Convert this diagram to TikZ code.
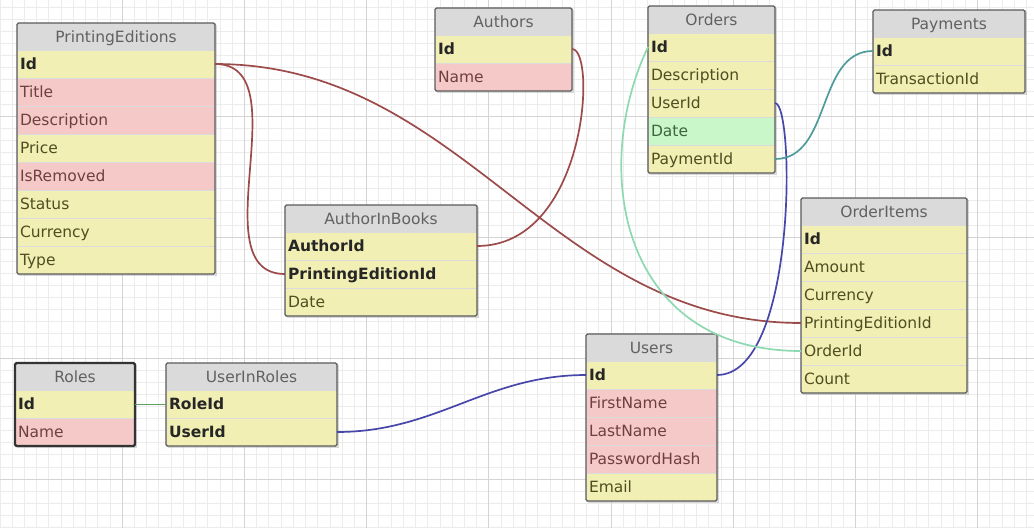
\documentclass[tikz,border=0pt]{standalone}
\usepackage{fontspec}
\setmainfont{DejaVu Sans}
\usetikzlibrary{shadows}

\definecolor{rowyellow}{HTML}{F1EFB3}
\definecolor{rowpink}{HTML}{F6C9C9}
\definecolor{rowgreen}{HTML}{C9F7C9}
\definecolor{headgray}{HTML}{DADADA}
\definecolor{framegray}{HTML}{5A5A5A}
\definecolor{textolive}{HTML}{4E4E22}
\definecolor{textred}{HTML}{6E4040}
\definecolor{textgreen}{HTML}{3E643E}
\definecolor{linered}{HTML}{9C4A4A}
\definecolor{lineblue}{HTML}{4747AA}
\definecolor{lineteal}{HTML}{4E9C9A}
\definecolor{linemint}{HTML}{8ED9B2}
\definecolor{linegreen}{HTML}{5E9E5E}
\definecolor{minorgray}{HTML}{ECECEC}
\definecolor{majorgray}{HTML}{D4D4D4}

\tikzset{
  tablerow/.style={anchor=north west, inner xsep=3pt, inner ysep=0pt, outer sep=0pt,
    minimum height=28pt, text height=12.5pt, text depth=1.5pt, align=left,
    draw=black!14, font=\fontsize{15.5}{17}\selectfont, text=textolive,
    drop shadow={opacity=0.3, shadow xshift=1.5pt, shadow yshift=-1.5pt}},
  headrow/.style={tablerow, fill=headgray, minimum height=27pt, align=center, text=black!62},
  keyrow/.style={tablerow, fill=rowyellow, font=\fontsize{15.5}{17}\selectfont\bfseries, text=black!85},
  yellowrow/.style={tablerow, fill=rowyellow},
  pinkrow/.style={tablerow, fill=rowpink, text=textred},
  greenrow/.style={tablerow, fill=rowgreen, text=textgreen},
  frame/.style={draw=framegray, line width=1.2pt, rounded corners=1.5pt},
  link/.style={line width=1.7pt},
}

\begin{document}
\begin{tikzpicture}[x=1pt, y=-1pt]
  \fill[white] (0,0) rectangle (1034,528);
  \useasboundingbox (0,0) rectangle (1034,528);

  % Grid paper
  \foreach \k in {0,...,84} \draw[minorgray, line width=0.8pt] (\k*12.22,0) -- (\k*12.22,528);
  \foreach \k in {0,...,43} \draw[minorgray, line width=0.8pt] (0,7.1+\k*12.1) -- (1034,7.1+\k*12.1);
  \foreach \k in {1,...,8} \draw[majorgray, line width=1pt] (\k*122.2,0) -- (\k*122.2,528);
  \foreach \k in {1,...,4} \draw[majorgray, line width=1pt] (0,\k*121-5) -- (1034,\k*121-5);

  % PrintingEditions
  \node[headrow, text width=192pt] (pe-head) at (17,23) {PrintingEditions};
  \node[keyrow, text width=192pt] (pe-id) at (17,50) {Id};
  \node[pinkrow, text width=192pt] (pe-title) at (17,78) {Title};
  \node[pinkrow, text width=192pt] (pe-desc) at (17,106) {Description};
  \node[yellowrow, text width=192pt] (pe-price) at (17,134) {Price};
  \node[pinkrow, text width=192pt] (pe-removed) at (17,162) {IsRemoved};
  \node[yellowrow, text width=192pt] (pe-status) at (17,190) {Status};
  \node[yellowrow, text width=192pt] (pe-currency) at (17,218) {Currency};
  \node[yellowrow, text width=192pt] (pe-type) at (17,246) {Type};
  \draw[frame] (pe-head.north west) rectangle (pe-type.south east);

  % Authors
  \node[headrow, text width=131pt] (auth-head) at (435,8) {Authors};
  \node[keyrow, text width=131pt] (auth-id) at (435,35) {Id};
  \node[pinkrow, text width=131pt] (auth-name) at (435,63) {Name};
  \draw[frame] (auth-head.north west) rectangle (auth-name.south east);

  % AuthorInBooks
  \node[headrow, text width=186pt] (aib-head) at (285,205) {AuthorInBooks};
  \node[keyrow, text width=186pt] (aib-authorid) at (285,232) {AuthorId};
  \node[keyrow, text width=186pt] (aib-peid) at (285,260) {PrintingEditionId};
  \node[yellowrow, text width=186pt] (aib-date) at (285,288) {Date};
  \draw[frame] (aib-head.north west) rectangle (aib-date.south east);

  % Orders
  \node[headrow, text width=121pt] (ord-head) at (648,6) {Orders};
  \node[keyrow, text width=121pt] (ord-id) at (648,33) {Id};
  \node[yellowrow, text width=121pt] (ord-desc) at (648,61) {Description};
  \node[yellowrow, text width=121pt] (ord-userid) at (648,89) {UserId};
  \node[greenrow, text width=121pt] (ord-date) at (648,117) {Date};
  \node[yellowrow, text width=121pt] (ord-paymentid) at (648,145) {PaymentId};
  \draw[frame] (ord-head.north west) rectangle (ord-paymentid.south east);

  % Payments
  \node[headrow, text width=146pt] (pay-head) at (873,10) {Payments};
  \node[keyrow, text width=146pt] (pay-id) at (873,37) {Id};
  \node[yellowrow, text width=146pt] (pay-transaction) at (873,65) {TransactionId};
  \draw[frame] (pay-head.north west) rectangle (pay-transaction.south east);

  % OrderItems
  \node[headrow, text width=160pt] (oi-head) at (801,198) {OrderItems};
  \node[keyrow, text width=160pt] (oi-id) at (801,225) {Id};
  \node[yellowrow, text width=160pt] (oi-amount) at (801,253) {Amount};
  \node[yellowrow, text width=160pt] (oi-currency) at (801,281) {Currency};
  \node[yellowrow, text width=160pt] (oi-peid) at (801,309) {PrintingEditionId};
  \node[yellowrow, text width=160pt] (oi-orderid) at (801,337) {OrderId};
  \node[yellowrow, text width=160pt] (oi-count) at (801,365) {Count};
  \draw[frame] (oi-head.north west) rectangle (oi-count.south east);

  % Users
  \node[headrow, text width=125pt] (usr-head) at (586,334) {Users};
  \node[keyrow, text width=125pt] (usr-id) at (586,361) {Id};
  \node[pinkrow, text width=125pt] (usr-first) at (586,389) {FirstName};
  \node[pinkrow, text width=125pt] (usr-last) at (586,417) {LastName};
  \node[pinkrow, text width=125pt] (usr-hash) at (586,445) {PasswordHash};
  \node[yellowrow, text width=125pt] (usr-email) at (586,473) {Email};
  \draw[frame] (usr-head.north west) rectangle (usr-email.south east);

  % Roles
  \node[headrow, text width=114pt] (roles-head) at (15,363) {Roles};
  \node[keyrow, text width=114pt] (roles-id) at (15,390) {Id};
  \node[pinkrow, text width=114pt] (roles-name) at (15,418) {Name};
  \draw[frame, draw=black!80, line width=2.2pt] (roles-head.north west) rectangle (roles-name.south east);

  % UserInRoles
  \node[headrow, text width=165pt] (uir-head) at (166,363) {UserInRoles};
  \node[keyrow, text width=165pt] (uir-roleid) at (166,390) {RoleId};
  \node[keyrow, text width=165pt] (uir-userid) at (166,418) {UserId};
  \draw[frame] (uir-head.north west) rectangle (uir-userid.south east);

  % Relations
  \draw[link, linered] (pe-id.east) to[out=0, in=180] (aib-peid.west);
  \draw[link, linered] (pe-id.east) to[out=0, in=180] (oi-peid.west);
  \draw[link, linered] (auth-id.east) .. controls +(25,0) and +(110,0) .. (aib-authorid.east);
  \draw[link, lineblue] (ord-userid.east) .. controls +(20,0) and +(80,0) .. (usr-id.east);
  \draw[link, lineteal] (ord-paymentid.east) to[out=0, in=180] (pay-id.west);
  \draw[link, linemint] (ord-id.west) .. controls +(-58,122) and +(-181,0) .. (oi-orderid.west);
  \draw[link, lineblue] (uir-userid.east) to[out=0, in=180] (usr-id.west);
  \draw[link, linegreen, line width=1pt] (roles-id.east) -- (uir-roleid.west);
\end{tikzpicture}
\end{document}
